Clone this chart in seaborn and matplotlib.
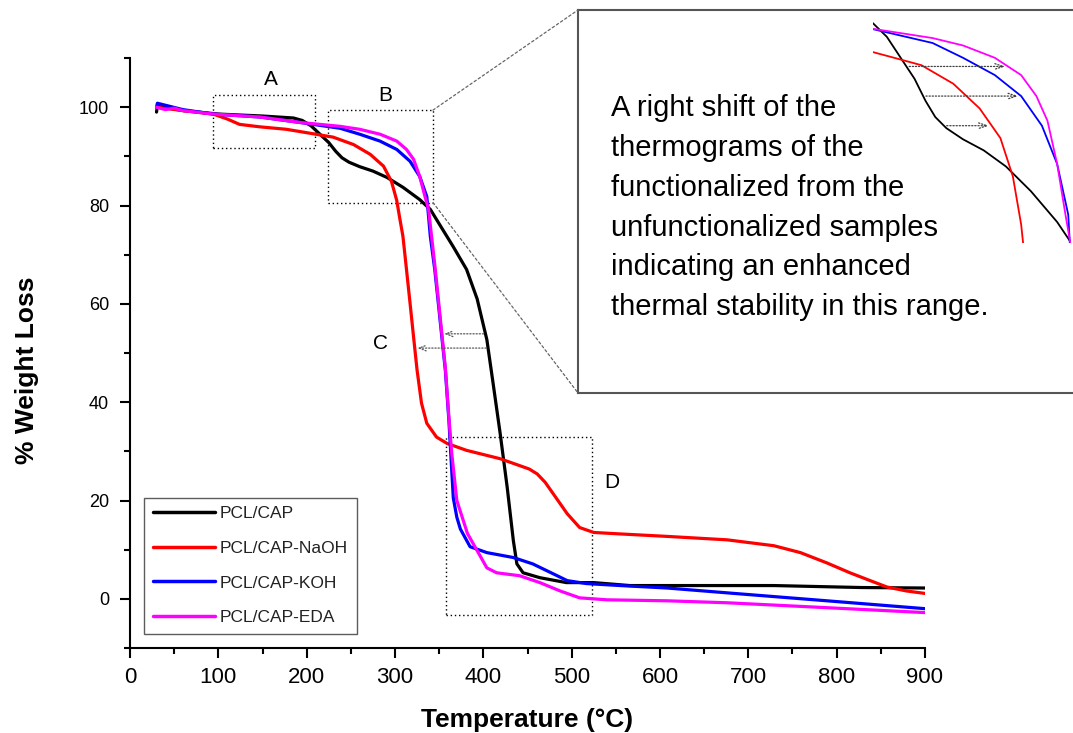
import numpy as np
import pandas as pd
import matplotlib
matplotlib.use("Agg")
import matplotlib.pyplot as plt
from matplotlib.patches import Rectangle, ConnectionPatch
from matplotlib.ticker import MultipleLocator
import seaborn as sns

# ---------------- data ----------------
black_x = [30, 31, 60, 100, 150, 185, 195, 205, 215, 225, 233, 240, 248, 260, 275, 291, 309, 328, 340, 366, 381, 393,
           404, 411, 419, 427, 434, 438, 445, 464, 494, 525, 566, 729, 828, 900]
black_y = [99.0, 100.2, 99.3, 98.6, 98.2, 97.8, 97.3, 96.2, 94.5, 92.8, 91.0, 89.7, 88.8, 87.9, 87.0, 85.7, 83.7, 81.2,
           79.2, 71.6, 67.0, 61.0, 52.7, 43.9, 33.7, 22.7, 11.8, 7.1, 5.3, 4.3, 3.3, 3.3, 2.7, 2.7, 2.3, 2.2]

red_x = [30, 60, 94, 110, 124, 147, 177, 207, 230, 253, 272, 287, 296, 302, 305, 309, 313, 317, 321, 325, 330, 336,
         347, 359, 381, 419, 441, 452, 461, 470, 479, 495, 509, 525, 555, 608, 676, 729, 759, 789, 815, 838, 857, 879,
         900]
red_y = [100.0, 99.3, 98.6, 97.6, 96.5, 96.0, 95.5, 94.6, 93.9, 92.4, 90.4, 88.0, 84.9, 81.0, 77.8, 73.7, 67.0, 60.2,
         53.3, 46.5, 39.8, 35.7, 32.9, 31.6, 30.2, 28.5, 27.1, 26.4, 25.4, 23.7, 21.4, 17.3, 14.5, 13.5, 13.2, 12.7,
         12.0, 10.8, 9.4, 7.3, 5.3, 3.7, 2.4, 1.6, 1.1]

blue_x = [30, 31, 60, 94, 147, 192, 215, 238, 260, 283, 302, 317, 328, 336, 340, 345, 349, 353, 357, 361, 366, 370,
          374, 385, 404, 434, 456, 479, 495, 517, 555, 608, 691, 789, 900]
blue_y = [100.0, 100.8, 99.5, 98.6, 98.0, 96.9, 96.3, 95.7, 94.5, 93.1, 91.4, 89.0, 85.9, 81.8, 73.7, 67.0, 60.2,
          53.3, 46.5, 36.3, 20.5, 16.6, 14.2, 10.6, 9.4, 8.4, 7.1, 5.1, 3.7, 3.1, 2.7, 2.2, 1.0, -0.4, -2.0]

magenta_x = [30, 40, 50, 60, 94, 147, 192, 238, 260, 283, 302, 313, 321, 328, 334, 338, 345, 349, 353, 357, 361, 364,
             370, 382, 393, 404, 415, 441, 464, 487, 509, 540, 608, 676, 789, 900]
magenta_y = [100.0, 99.5, 99.8, 99.3, 98.6, 98.0, 96.9, 96.1, 95.5, 94.5, 93.1, 91.4, 89.4, 85.9, 81.8, 79.2, 68.0,
             61.0, 54.0, 47.0, 37.0, 30.0, 20.0, 13.3, 9.8, 6.3, 5.3, 4.7, 3.3, 1.6, 0.2, -0.2, -0.4, -0.8, -1.8, -2.8]

series_names = ["PCL/CAP", "PCL/CAP-NaOH", "PCL/CAP-KOH", "PCL/CAP-EDA"]
series_colors = ["#000000", "#ff0000", "#0000ff", "#ff00ff"]
series_x = [black_x, red_x, blue_x, magenta_x]
series_y = [black_y, red_y, blue_y, magenta_y]

x_ticks = [0, 100, 200, 300, 400, 500, 600, 700, 800, 900]
y_ticks = [0, 20, 40, 60, 80, 100]

box_A = (94, 91.6, 210, 102.4)
box_B = (224, 80.6, 343, 99.4)
box_D = (358, -3.2, 523, 32.9)

note_text = ("A right shift of the\nthermograms of the\nfunctionalized from the\n"
             "unfunctionalized samples\nindicating an enhanced\nthermal stability in this range.")

# ---------------- style ----------------
sns.set_style("ticks")
plt.rcParams["font.family"] = ["Liberation Sans", "DejaVu Sans"]
plt.rcParams["axes.linewidth"] = 1.5
for k in ["text.color", "axes.labelcolor", "xtick.color", "ytick.color", "axes.edgecolor"]:
    plt.rcParams[k] = "black"

W, H = 1073, 733
fig = plt.figure(figsize=(W / 100, H / 100), dpi=100)

def fx(px):
    return px / W

def fy(py):
    return 1 - py / H

ax = fig.add_axes([fx(130), fy(648), fx(925) - fx(130), fy(58) - fy(648)])

frames = []
for name, xs, ys in zip(series_names, series_x, series_y):
    frames.append(pd.DataFrame({"T": xs, "W": ys, "sample": name}))
df = pd.concat(frames, ignore_index=True)

for name, col in zip(series_names, series_colors):
    sub = df[df["sample"] == name]
    sns.lineplot(data=sub, x="T", y="W", ax=ax, color=col, lw=2.3, label=name,
                 estimator=None, sort=False, legend=False)

ax.set_xlim(0, 900)
ax.set_ylim(-10, 110)
ax.set_xticks(x_ticks)
ax.set_yticks(y_ticks)
ax.xaxis.set_minor_locator(MultipleLocator(50))
ax.yaxis.set_minor_locator(MultipleLocator(10))
ax.tick_params(axis="both", which="major", direction="out", length=7, width=1.5, color="black")
ax.tick_params(axis="both", which="minor", direction="out", length=4, width=1.5, color="black")
ax.tick_params(axis="x", labelsize=16, pad=7, labelcolor="black")
ax.tick_params(axis="y", labelsize=13, pad=8, labelcolor="black")
for s in ["top", "right"]:
    ax.spines[s].set_visible(False)

ax.set_xlabel("Temperature (°C)", fontsize=19, fontweight="bold", labelpad=14, color="black")
ax.set_ylabel("% Weight Loss", fontsize=19, fontweight="bold", color="black")
ax.yaxis.set_label_coords(-0.115, 0.47)

leg = ax.legend(loc="lower left", bbox_to_anchor=(0.018, 0.024), borderaxespad=0, fontsize=12.5,
                handlelength=3.6, handletextpad=0.25, labelspacing=1.12, borderpad=0.5,
                frameon=True, fancybox=False, edgecolor="#333333")
leg.get_frame().set_linewidth(1.0)
for line in leg.get_lines():
    line.set_linewidth(2.5)
for t in leg.get_texts():
    t.set_color("#222222")

# dotted region boxes
dot = (0, (1, 2))
for (x0, y0, x1, y1) in [box_A, box_B, box_D]:
    ax.add_patch(Rectangle((x0, y0), x1 - x0, y1 - y0, fill=False, ls=dot, lw=1.0, ec="black", zorder=1))

ax.text(160, 105.6, "A", fontsize=15, ha="center", va="center")
ax.text(289, 102.4, "B", fontsize=15, ha="center", va="center")
ax.text(284, 52.0, "C", fontsize=15, ha="center", va="center")
ax.text(545, 23.7, "D", fontsize=15, ha="center", va="center")


def x_at(y, xs, ys, lo=150, hi=450):
    xs = np.asarray(xs, float)
    ys = np.asarray(ys, float)
    m = (xs >= lo) & (xs <= hi)
    return float(np.interp(y, ys[m][::-1], xs[m][::-1]))


arrow_props = dict(arrowstyle="->,head_length=0.5,head_width=0.2", ls=(0, (1, 1.5)), lw=0.9, color="0.35")
# left-pointing arrows near C
for yv, tx, ty in [(53.9, blue_x, blue_y), (51.0, red_x, red_y)]:
    ax.annotate("", xy=(x_at(yv, tx, ty), yv), xytext=(x_at(yv, black_x, black_y) + 1, yv),
                arrowprops=arrow_props)

# ---------------- note box with zoomed view ----------------
ax_box = fig.add_axes([fx(578), fy(393), fx(1080) - fx(578), fy(10) - fy(393)])
ax_box.set_xticks([])
ax_box.set_yticks([])
for s in ax_box.spines.values():
    s.set_color("#555555")
    s.set_linewidth(1.5)
ax_box.set_facecolor("white")
ax_box.text((611 - 578) / (1080 - 578), 0.78, note_text, transform=ax_box.transAxes,
            fontsize=21, ha="left", va="top", linespacing=1.535, color="black")

# connecting lines from box B to note box
for yb, yc in [(box_B[3], 1.0), (box_B[1], 0.0)]:
    con = ConnectionPatch(xyA=(box_B[2], yb), coordsA=ax.transData, xyB=(0.0, yc), coordsB=ax_box.transAxes,
                          ls=(0, (2, 2)), lw=0.9, color="0.4")
    fig.add_artist(con)

ax_in = fig.add_axes([fx(873), fy(243), fx(1071) - fx(873), fy(22) - fy(243)])
ax_in.set_axis_off()
for name, col in zip(series_names, series_colors):
    sub = df[df["sample"] == name]
    sns.lineplot(data=sub, x="T", y="W", ax=ax_in, color=col, lw=1.3,
                 estimator=None, sort=False, legend=False)
ax_in.set_xlim(195, 338)
ax_in.set_ylim(79.5, 97.4)

in_props = dict(arrowstyle="->,head_length=0.6,head_width=0.2", ls=(0, (1, 1.5)), lw=0.9, color="0.25")
for yv, tx, ty in [(93.8, magenta_x, magenta_y), (91.4, blue_x, blue_y), (89.0, red_x, red_y)]:
    ax_in.annotate("", xy=(x_at(yv, tx, ty), yv), xytext=(x_at(yv, black_x, black_y), yv),
                   arrowprops=in_props)

fig.savefig("out.png", dpi=100)
